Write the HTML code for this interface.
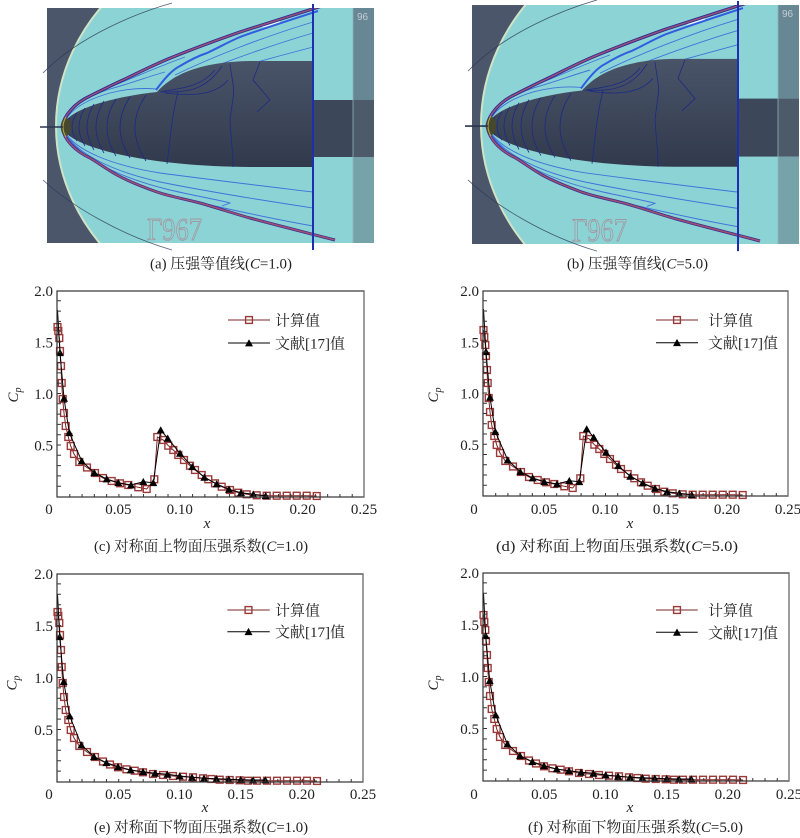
<!DOCTYPE html>
<html><head><meta charset="utf-8">
<style>html,body{margin:0;padding:0;background:#fff;}svg{display:block}</style>
</head><body>
<svg width="800" height="838" viewBox="0 0 800 838" xmlns="http://www.w3.org/2000/svg" xmlns:xlink="http://www.w3.org/1999/xlink" font-family="'Liberation Serif','Noto Serif CJK SC',serif">
<defs>
  <marker id="sq" viewBox="0 0 10 10" refX="5" refY="5" markerWidth="10" markerHeight="10" markerUnits="userSpaceOnUse" overflow="visible">
    <rect x="1.6" y="1.6" width="6.8" height="6.8" fill="none" stroke="#9c3a3a" stroke-width="1.4"/>
  </marker>
  <marker id="tri" viewBox="0 0 10 10" refX="5" refY="5.6" markerWidth="10" markerHeight="10" markerUnits="userSpaceOnUse" overflow="visible">
    <path d="M1,9 L5,1.8 L9,9 Z" fill="#000"/>
  </marker>
  <linearGradient id="bodyg" x1="0" y1="0" x2="0" y2="1">
    <stop offset="0" stop-color="#4a5468"/><stop offset="1" stop-color="#313a4d"/>
  </linearGradient>
  <clipPath id="pc"><rect x="47" y="8" width="327" height="235"/></clipPath>

  <g id="photo">
    <g clip-path="url(#pc)">
      <rect x="47" y="8" width="327" height="235" fill="#4c566a"/>
      <ellipse cx="300" cy="126" rx="244" ry="205" fill="#8cd3d5" stroke="#cfe3c6" stroke-width="2"/>
      <g fill="none" stroke="#3f72dc" stroke-width="0.9">
        <path d="M64,123 C70,110 85,100 110,93 C130,88 145,88 156,89"/>
        <path d="M64,122 C70,108 85,97 110,89 C135,82 150,76 165,72"/>
        <path d="M65,121 C72,106 88,95 115,85 C140,75 160,66 185,57"/>
        <path d="M175,75 C210,58 260,38 313,22"/>
        <path d="M185,78 C220,64 265,47 313,33"/>
        <path d="M200,78 C235,68 275,57 313,47"/>
        <path d="M64,131 C75,150 110,165 160,173 C220,181 280,188 313,192"/>
        <path d="M65,133 C78,155 115,172 160,182 C220,194 280,203 313,208"/>
        <path d="M66,135 C80,158 120,178 170,190 C200,197 220,200 230,203 L222,206"/>
        <path d="M67,137 C85,162 130,185 180,198 C240,212 290,222 313,226"/>
      </g>
      <path d="M262,26 L280,22" stroke="#e8f6f4" stroke-width="3" fill="none"/>
      <g fill="none">
        <path d="M62,127 C64,115 75,103 90,96 C100,91 112,85 123,80 C140,72 155,64 173,57 C195,48 220,39 240,32 C265,24 290,16 325,5" stroke="#2a2a90" stroke-width="3.2"/>
        <path d="M62,127 C64,115 75,103 90,96 C100,91 112,85 123,80 C140,72 155,64 173,57 C195,48 220,39 240,32 C265,24 290,16 325,5" stroke="#9a5078" stroke-width="1.5"/>
        <path d="M62,127 C64,140 75,151 90,158 C100,164 108,170 117,175 C130,182 143,187 157,192 C172,197 185,199 200,203 C218,208 232,213 250,218 C272,224 292,229 335,240" stroke="#3a3090" stroke-width="3"/>
        <path d="M62,127 C64,140 75,151 90,158 C100,164 108,170 117,175 C130,182 143,187 157,192 C172,197 185,199 200,203 C218,208 232,213 250,218 C272,224 292,229 335,240" stroke="#a05070" stroke-width="1.5"/>
        <path d="M156,90 C165,78 172,70 180,66 C190,60 198,56 207,53 C220,47 228,42 240,37 C265,28 290,20 318,11" stroke="#2f5ee0" stroke-width="2"/>
      </g>
      <path d="M63,127 C64,111 110,97 157,92 C168,80 190,62 250,61 L313,61 L313,167 L250,167 C130,166 64,143 63,127 Z" fill="url(#bodyg)"/>
      <g fill="none" stroke="#1d2a85" stroke-width="0.8">
        <path d="M70,118 Q62,127 70,136"/>
        <path d="M77,113 Q67,127 77,141"/>
        <path d="M85,108 Q73,127 85,146"/>
        <path d="M94,104 Q80,127 94,150"/>
        <path d="M104,101 Q88,127 104,153"/>
        <path d="M116,99 Q98,127 116,156"/>
        <path d="M130,97 Q110,127 130,158"/>
        <path d="M146,95 Q124,127 146,161"/>
        <path d="M178,92 C172,115 170,140 167,164"/>
        <path d="M230,64 C232,80 235,90 233,98 L230,120 C231,140 233,150 233,167"/>
        <path d="M260,62 L253,80 L270,100 L257,112"/>
        <path d="M160,92 C180,88 200,88 215,70"/>
        <path d="M162,92 C185,92 205,92 222,66"/>
        <path d="M165,93 C190,96 215,96 228,80"/>
      </g>
      <ellipse cx="66" cy="127" rx="5" ry="9" fill="#4a4a22" opacity="0.85"/>
      <path d="M66,117 Q60,127 66,137" stroke="#b8a848" stroke-width="1" fill="none"/>
      <rect x="313" y="100" width="40" height="57" fill="#3c4759"/>
      <rect x="353" y="8" width="21" height="92" fill="#678794"/>
      <rect x="353" y="100" width="21" height="57" fill="#4d5a6a"/>
      <rect x="353" y="157" width="21" height="86" fill="#76a2aa"/>
      <line x1="353" y1="8" x2="353" y2="243" stroke="#8fb4bb" stroke-width="0.8"/>
      <text x="357" y="20" font-size="10" font-family="'Liberation Sans',sans-serif" fill="#c4ced3">96</text>
      <text x="147" y="240" font-size="32" fill="none" stroke="#b46a78" stroke-width="0.7" opacity="0.7" textLength="55" lengthAdjust="spacingAndGlyphs">Γ967</text>
    </g>
    <path d="M172,3 C140,12 80,35 43,73" fill="none" stroke="#2c3a55" stroke-width="0.8" opacity="0.8"/>
    <path d="M43,180 C70,205 120,235 172,250" fill="none" stroke="#2c3a55" stroke-width="0.8" opacity="0.8"/>
    <line x1="40" y1="127" x2="63" y2="127" stroke="#2a3550" stroke-width="1.5"/>
    <line x1="313" y1="4" x2="313" y2="250" stroke="#1b2fb0" stroke-width="2"/>
  </g>
</defs>

<rect width="800" height="838" fill="#fff"/>

<use xlink:href="#photo" href="#photo"/>
<use xlink:href="#photo" href="#photo" transform="translate(425,-3.1) scale(1,1.017)"/>

<g font-size="15" fill="#222">
  <text x="150" y="268.5" textLength="142" lengthAdjust="spacingAndGlyphs">(a) 压强等值线(<tspan font-style="italic">C</tspan>=1.0)</text>
  <text x="567" y="268.5" textLength="141" lengthAdjust="spacingAndGlyphs">(b) 压强等值线(<tspan font-style="italic">C</tspan>=5.0)</text>
  <text x="94" y="551" textLength="214" lengthAdjust="spacingAndGlyphs">(c) 对称面上物面压强系数(<tspan font-style="italic">C</tspan>=1.0)</text>
  <text x="496" y="551" textLength="242" lengthAdjust="spacingAndGlyphs">(d) 对称面上物面压强系数(<tspan font-style="italic">C</tspan>=5.0)</text>
  <text x="94" y="832" textLength="214" lengthAdjust="spacingAndGlyphs">(e) 对称面下物面压强系数(<tspan font-style="italic">C</tspan>=1.0)</text>
  <text x="528" y="832" textLength="215" lengthAdjust="spacingAndGlyphs">(f) 对称面下物面压强系数(<tspan font-style="italic">C</tspan>=5.0)</text>
</g>

<!-- Chart (c) -->
<g transform="translate(57,497)" font-size="15" fill="#222">
  <polyline fill="none" stroke="#7a2525" stroke-width="1" marker-start="url(#sq)" marker-mid="url(#sq)" marker-end="url(#sq)"
    points="0.5,-170 1.3,-166 2.3,-159 3,-146 4,-131 4.7,-114 5.7,-98 7,-84 8.7,-71 11.3,-60 13.7,-51 17,-43 22.3,-35 30,-29.5 38,-24 46,-19 54.7,-16 63,-13.7 71.3,-12 81.3,-9.7 89.7,-8 97.3,-17.7 100.3,-60 106.3,-57 111.3,-51.3 116.3,-47 121.3,-42 127,-37 133,-31.3 138,-27 144.7,-22 151.3,-17.7 158,-13.7 164.7,-10.3 173,-7 181.3,-4.3 189.7,-2.7 199.7,-1.7 209.7,-1.3 219.7,-1.3 229.7,-1.3 239.7,-1.3 249.7,-1.3 259.7,-1"/>
  <polyline fill="none" stroke="#000" stroke-width="1" marker-mid="url(#tri)" marker-end="url(#tri)"
    points="0.5,-187 3,-144.3 7,-98.7 12.3,-64.3 24.7,-36 37.3,-24.3 49.7,-18 61.3,-14.3 74,-12 86.3,-15.3 96.3,-14.3 103.7,-67 110.7,-58.7 123,-43.7 135.3,-30.3 147.3,-19.7 159.7,-13 172,-7.7 184,-4.3 196.3,-2.7 208.7,-1.3"/>
  <rect x="0" y="-206" width="307" height="206" fill="none" stroke="#333" stroke-width="1.2"/>
  <line x1="307" y1="-206" x2="307" y2="0" stroke="#777" stroke-width="1.2"/>
  <line x1="2" y1="-10.3" x2="2" y2="-205" stroke="#333" stroke-width="4" stroke-dasharray="1 9.3"/>
  <line x1="12.28" y1="-1.5" x2="300" y2="-1.5" stroke="#333" stroke-width="3" stroke-dasharray="1 11.28"/>
  <g text-anchor="end"><text x="-4" y="-201">2.0</text><text x="-4" y="-149.5">1.5</text><text x="-4" y="-98">1.0</text><text x="-4" y="-46.5">0.5</text></g>
  <g text-anchor="middle"><text x="-8" y="17">0</text><text x="61.4" y="17">0.05</text><text x="122.8" y="17">0.10</text><text x="184.2" y="17">0.15</text><text x="245.6" y="17">0.20</text><text x="307" y="17">0.25</text></g>
  <text x="150" y="31" font-style="italic" text-anchor="middle">x</text>
  <text transform="translate(-39,-102) rotate(-90)" font-style="italic" text-anchor="middle">C<tspan font-size="10" dy="3">p</tspan></text>
  <polyline points="171,-177 192,-177 213,-177" stroke="#7a2525" fill="none" marker-mid="url(#sq)"/>
  <text x="218" y="-171.5">计算值</text>
  <polyline points="171,-154 192,-154 213,-154" stroke="#000" fill="none" marker-mid="url(#tri)"/>
  <text x="218" y="-148.5">文献[17]值</text>
</g>

<!-- Chart (d) -->
<g transform="translate(483,496)" font-size="15" fill="#222">
  <polyline fill="none" stroke="#7a2525" stroke-width="1" marker-start="url(#sq)" marker-mid="url(#sq)" marker-end="url(#sq)"
    points="0.5,-166 1.3,-159 2.3,-151 3,-140 4,-126 4.7,-113 5.7,-98 7,-84 8.7,-71 11.3,-60 13.7,-51 17,-43 22.3,-35 30,-29.5 38,-24 46,-19 54.7,-16 63,-13.7 71.3,-12 81.3,-9.7 89.7,-8 97.3,-17.7 100.3,-60 106.3,-57 111.3,-51.3 116.3,-47 121.3,-42 127,-37 133,-31.3 138,-27 144.7,-22 151.3,-17.7 158,-13.7 164.7,-10.3 173,-7 181.3,-4.3 189.7,-2.7 199.7,-1.7 209.7,-1.3 219.7,-1.3 229.7,-1.3 239.7,-1.3 249.7,-1.3 259.7,-1"/>
  <polyline fill="none" stroke="#000" stroke-width="1" marker-mid="url(#tri)" marker-end="url(#tri)"
    points="0.5,-187 3,-144.3 7,-98.7 12.3,-64.3 24.7,-36 37.3,-24.3 49.7,-18 61.3,-14.3 74,-12 86.3,-15.3 96.3,-14.3 103.7,-67 110.7,-58.7 123,-43.7 135.3,-30.3 147.3,-19.7 159.7,-13 172,-7.7 184,-4.3 196.3,-2.7 208.7,-1.3"/>
  <rect x="0" y="-205" width="305" height="205" fill="none" stroke="#333" stroke-width="1.2"/>
  <line x1="305" y1="-205" x2="305" y2="0" stroke="#777" stroke-width="1.2"/>
  <line x1="2" y1="-10.25" x2="2" y2="-204" stroke="#333" stroke-width="4" stroke-dasharray="1 9.25"/>
  <line x1="12.2" y1="-1.5" x2="298" y2="-1.5" stroke="#333" stroke-width="3" stroke-dasharray="1 11.2"/>
  <g text-anchor="end"><text x="-4" y="-200">2.0</text><text x="-4" y="-148.75">1.5</text><text x="-4" y="-97.5">1.0</text><text x="-4" y="-46.25">0.5</text></g>
  <g text-anchor="middle"><text x="-9" y="18">0</text><text x="61" y="18">0.05</text><text x="122" y="18">0.10</text><text x="183" y="18">0.15</text><text x="244" y="18">0.20</text><text x="305" y="18">0.25</text></g>
  <text x="147" y="32" font-style="italic" text-anchor="middle">x</text>
  <text transform="translate(-45,-101) rotate(-90)" font-style="italic" text-anchor="middle">C<tspan font-size="10" dy="3">p</tspan></text>
  <polyline points="173,-176 194,-176 215,-176" stroke="#7a2525" fill="none" marker-mid="url(#sq)"/>
  <text x="225" y="-170.5">计算值</text>
  <polyline points="173,-153.3 194,-153.3 215,-153.3" stroke="#000" fill="none" marker-mid="url(#tri)"/>
  <text x="225" y="-147.8">文献[17]值</text>
</g>

<!-- Chart (e) -->
<g transform="translate(57,782)" font-size="15" fill="#222">
  <polyline fill="none" stroke="#7a2525" stroke-width="1" marker-start="url(#sq)" marker-mid="url(#sq)" marker-end="url(#sq)"
    points="0.5,-170 1.3,-166 2.3,-159 3,-147 4,-132 4.7,-115 5.7,-99 7,-85 8.7,-72 11.3,-62 13.7,-52 17,-44 22.3,-36 30,-30 38,-25 46,-20.5 53,-17.5 61,-14.7 69.4,-12.7 77.7,-11.3 86,-9.7 96,-8 106,-7 116,-6 126,-5.3 136,-4.7 146,-3.7 154.4,-3 162.7,-2.3 172.7,-2 182.7,-1.7 191,-1.3 200,-1.3 210,-1.3 220,-1.3 230,-1.3 240,-1.3 250,-1.3 260,-1"/>
  <polyline fill="none" stroke="#000" stroke-width="1" marker-mid="url(#tri)" marker-end="url(#tri)"
    points="0.5,-188 2.7,-145.3 6.7,-100.3 12.7,-66 24.4,-37 37,-25.3 49.4,-19.3 61,-15.3 73.7,-12 86,-10.3 98,-8.7 110.4,-7.7 122.7,-6 135,-4.7 147,-3.7 159.4,-3.3 171.7,-2.7 183.7,-2.3 196,-2 208.4,-2"/>
  <rect x="0" y="-208" width="306" height="208" fill="none" stroke="#333" stroke-width="1.2"/>
  <line x1="306" y1="-208" x2="306" y2="0" stroke="#777" stroke-width="1.2"/>
  <line x1="2" y1="-10.4" x2="2" y2="-207" stroke="#333" stroke-width="4" stroke-dasharray="1 9.4"/>
  <line x1="12.24" y1="-1.5" x2="299" y2="-1.5" stroke="#333" stroke-width="3" stroke-dasharray="1 11.24"/>
  <g text-anchor="end"><text x="-4" y="-203">2.0</text><text x="-4" y="-151">1.5</text><text x="-4" y="-99">1.0</text><text x="-4" y="-47">0.5</text></g>
  <g text-anchor="middle"><text x="-8" y="17">0</text><text x="61.2" y="17">0.05</text><text x="122.4" y="17">0.10</text><text x="183.6" y="17">0.15</text><text x="244.8" y="17">0.20</text><text x="306" y="17">0.25</text></g>
  <text x="148" y="30" font-style="italic" text-anchor="middle">x</text>
  <text transform="translate(-40.6,-99) rotate(-90)" font-style="italic" text-anchor="middle">C<tspan font-size="10" dy="3">p</tspan></text>
  <polyline points="170.4,-172 191.5,-172 212.7,-172" stroke="#7a2525" fill="none" marker-mid="url(#sq)"/>
  <text x="218" y="-166.5">计算值</text>
  <polyline points="170.4,-150.3 191.5,-150.3 212.7,-150.3" stroke="#000" fill="none" marker-mid="url(#tri)"/>
  <text x="218" y="-144.8">文献[17]值</text>
</g>

<!-- Chart (f) -->
<g transform="translate(483,781)" font-size="15" fill="#222">
  <polyline fill="none" stroke="#7a2525" stroke-width="1" marker-start="url(#sq)" marker-mid="url(#sq)" marker-end="url(#sq)"
    points="0.5,-166 1.3,-159 2.3,-151 3,-140 4,-126 4.7,-113 5.7,-99 7,-85 8.7,-72 11.3,-62 13.7,-52 17,-44 22.3,-36 30,-30 38,-25 46,-20.5 53,-17.5 61,-14.7 69.4,-12.7 77.7,-11.3 86,-9.7 96,-8 106,-7 116,-6 126,-5.3 136,-4.7 146,-3.7 154.4,-3 162.7,-2.3 172.7,-2 182.7,-1.7 191,-1.3 200,-1.3 210,-1.3 220,-1.3 230,-1.3 240,-1.3 250,-1.3 260,-1"/>
  <polyline fill="none" stroke="#000" stroke-width="1" marker-mid="url(#tri)" marker-end="url(#tri)"
    points="0.5,-188 2.7,-145.3 6.7,-100.3 12.7,-66 24.4,-37 37,-25.3 49.4,-19.3 61,-15.3 73.7,-12 86,-10.3 98,-8.7 110.4,-7.7 122.7,-6 135,-4.7 147,-3.7 159.4,-3.3 171.7,-2.7 183.7,-2.3 196,-2 208.4,-2"/>
  <rect x="0" y="-208" width="306" height="208" fill="none" stroke="#333" stroke-width="1.2"/>
  <line x1="306" y1="-208" x2="306" y2="0" stroke="#777" stroke-width="1.2"/>
  <line x1="2" y1="-10.4" x2="2" y2="-207" stroke="#333" stroke-width="4" stroke-dasharray="1 9.4"/>
  <line x1="12.24" y1="-1.5" x2="299" y2="-1.5" stroke="#333" stroke-width="3" stroke-dasharray="1 11.24"/>
  <g text-anchor="end"><text x="-4" y="-203">2.0</text><text x="-4" y="-151">1.5</text><text x="-4" y="-99">1.0</text><text x="-4" y="-47">0.5</text></g>
  <g text-anchor="middle"><text x="-9" y="18">0</text><text x="61.2" y="18">0.05</text><text x="122.4" y="18">0.10</text><text x="183.6" y="18">0.15</text><text x="244.8" y="18">0.20</text><text x="306" y="18">0.25</text></g>
  <text x="147" y="31" font-style="italic" text-anchor="middle">x</text>
  <text transform="translate(-45,-98) rotate(-90)" font-style="italic" text-anchor="middle">C<tspan font-size="10" dy="3">p</tspan></text>
  <polyline points="173,-171 194,-171 214.7,-171" stroke="#7a2525" fill="none" marker-mid="url(#sq)"/>
  <text x="225" y="-165.5">计算值</text>
  <polyline points="173,-148.7 194,-148.7 214.7,-148.7" stroke="#000" fill="none" marker-mid="url(#tri)"/>
  <text x="225" y="-143.2">文献[17]值</text>
</g>
</svg>
</body></html>
